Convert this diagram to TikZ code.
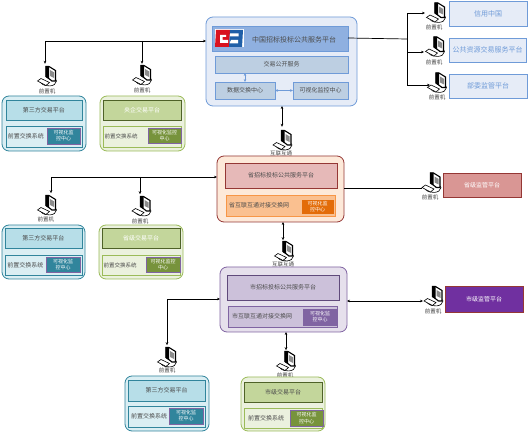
\documentclass[tikz,border=0pt]{standalone}
\usepackage{fontspec}
\setmainfont{Noto Sans CJK SC}
\usetikzlibrary{arrows.meta}
\definecolor{cebA}{HTML}{E6ECF7}
\definecolor{cebB}{HTML}{6F9BD8}
\definecolor{cebC}{HTML}{8FB0E0}
\definecolor{cebD}{HTML}{BDCFE2}
\definecolor{thirdA}{HTML}{DAEEF3}
\definecolor{thirdB}{HTML}{31859C}
\definecolor{thirdC}{HTML}{B7DEE8}
\definecolor{greenA}{HTML}{EBF1DE}
\definecolor{greenB}{HTML}{9BBB59}
\definecolor{greenC}{HTML}{C3D69B}
\definecolor{greenD}{HTML}{4F6228}
\definecolor{greenE}{HTML}{77933C}
\definecolor{violetA}{HTML}{E6E0EC}
\definecolor{violetB}{HTML}{8064A2}
\definecolor{violetC}{HTML}{CCC1DA}
\definecolor{violetD}{HTML}{604A7B}
\definecolor{orangeA}{HTML}{FDE9D9}
\definecolor{orangeB}{HTML}{F79646}
\definecolor{orangeC}{HTML}{FAC090}
\definecolor{orangeD}{HTML}{E36C09}
\definecolor{redA}{HTML}{E6B9B8}
\definecolor{redB}{HTML}{953735}
\definecolor{redC}{HTML}{D99694}
\definecolor{purpleA}{HTML}{7030A0}
\definecolor{logoR}{HTML}{D9121F}
\definecolor{logoB}{HTML}{1F5FA8}
\tikzset{
 base/.style={draw, rectangle, outer sep=0pt, inner sep=0pt, align=center, line width=0.8pt, text=black!70},
 outerbox/.style={base, rounded corners=7pt},
 txta/.style={font=\fontsize{7}{8.5}\selectfont},
 txtb/.style={font=\fontsize{6}{7.5}\selectfont},
 txtd/.style={font=\fontsize{5.5}{6.5}\selectfont},
 txtc/.style={font=\fontsize{5}{6.2}\selectfont},
 plain/.style={inner sep=0pt, text=black!70},
 pclabel/.style={txtd, inner sep=0pt, text=black!75},
 pcspot/.style={inner sep=0pt, minimum width=0pt, minimum height=20pt},
 line/.style={line width=0.7pt},
 link/.style={line, -{Stealth[length=3pt,width=2.6pt]}},
 dlink/.style={line, {Stealth[length=3pt,width=2.6pt]}-{Stealth[length=3pt,width=2.6pt]}},
 frontpc/.pic={
  \draw[line width=0.6pt] (-6,7) .. controls (-2,11.5) and (9,11) .. (9.5,5) .. controls (9.5,3) and (6,3) .. (4,5);
  \draw[fill=white, line width=1.1pt] (-1,-9.5) -- (2,-9.5) -- (8.5,-5.5) -- (8.5,5) -- (5,5) -- (-1,0.5) -- cycle;
  \fill[black] (-1.4,-9.8) -- (2,-9.8) -- (2,3) -- (-1.4,1) -- cycle;
  \fill[black!45] (3,-6) -- (7,-3.6) -- (7,2) -- (3,0) -- cycle;
  \draw[fill=white, line width=0.6pt] (-9.5,5) -- (-6,2.5) -- (2.5,6.5) -- (-1,9.5) -- cycle;
 },
 third/.style={outerbox, fill=thirdA, draw=thirdB},
 thirdt/.style={base, fill=thirdC, draw=thirdB, txtb},
 thirds/.style={base, fill=thirdA, draw=thirdB},
 thirdk/.style={base, fill=thirdB, draw=violetB, text=white, txtc},
 greenbox/.style={outerbox, fill=greenA, draw=greenB},
 greent/.style={base, fill=greenC, draw=greenD, txtb},
 greens/.style={base, fill=greenA, draw=greenB},
 greenk/.style={base, fill=greenE, draw=violetB, text=white, txtc},
 cebbar/.style={base, fill=cebD, draw=cebB, txtb},
 supbox/.style={base, fill=cebA, draw=cebB, text=cebB, txta},
}
\begin{document}
\begin{tikzpicture}[x=1pt, y=-1pt]
 \useasboundingbox[fill=white] (0,0) rectangle (531,435);
 % national platform
 \node[outerbox, fill=cebA, draw=cebB, minimum width=151pt, minimum height=89pt] (cebo) at (281.5,61.5) {};
 \node[base, fill=cebC, draw=cebB, minimum width=136pt, minimum height=25pt] (cebt) at (280,38.5) {};
 \node[txta, plain] (cebn) at (294,39.5) {中国招标投标公共服务平台};
 \node[base, fill=white, draw=none, minimum width=29pt, minimum height=18pt] (logo) at (229,38) {};
 \fill[logoR] (216,30) -- (230,30) -- (229,47) -- (215,47) -- cycle;
 \fill[white] (220,35) -- (226,35) -- (226,37) -- (222.5,37) -- (222.5,40) -- (228,40) -- (228,43) -- (220,43) -- cycle;
 \fill[logoB] (230,30) -- (243,30) -- (242,47) -- (229,47) -- cycle;
 \fill[white] (230,33.5) -- (238.5,33.5) -- (238.5,36.5) -- (230,36.5) -- cycle (231,40) -- (238,40) -- (238,43.5) -- (229.5,43.5) -- cycle;
 \node[cebbar, minimum width=133pt, minimum height=17pt] (cebp) at (281.5,64.5) {交易公开服务};
 \node[cebbar, minimum width=60pt, minimum height=17pt] (cebx) at (245,90.5) {数据交换中心};
 \node[cebbar, minimum width=55pt, minimum height=17pt] (cebv) at (320.5,90.5) {可视化监控中心};
 \draw[dlink, draw=cebB] (cebx.north) -- (cebx.north |- cebp.south);
 \draw[dlink, draw=cebB] (cebx.east) -- (cebv.west);

 % national side links
 \coordinate (ja) at (206,41);
 \coordinate (jb) at (348,38);
 \coordinate (jc) at (407,39);
 \node[pcspot] (pca) at (45,74) {};
 \node[pcspot] (pcb) at (142,74) {};
 \node[pcspot] (pcc) at (282,137) {};
 \node[pcspot] (pcd) at (425,13) {};
 \node[pcspot] (pce) at (424,52) {};
 \node[pcspot] (pcf) at (430,85) {};
 \draw[dlink] (ja) -| (pca.north);
 \draw[link] (pcb.north |- ja) -- (pcb.north);
 \draw[dlink] (cebo.south -| pcc.north) -- (pcc.north);
 \draw[line] (jb) -- (jc);
 \draw[link] (jc) |- (pcd.center);
 \draw[link] (jc) |- (pcf.center);
 \draw[link] (jc |- pce.center) -- (pce.center);
 \pic at (47,76) {frontpc};
 \pic at (142,75) {frontpc};
 \pic at (282.5,140) {frontpc};
 \pic at (436,12.5) {frontpc};
 \pic at (435,46.5) {frontpc};
 \pic at (437,82.5) {frontpc};
 \node[pclabel] (la) at (47,91) {前置机};
 \node[pclabel] (lb) at (142,90) {前置机};
 \node[pclabel] (lc) at (281,153) {互联互通};
 \node[pclabel] (ld) at (434,27) {前置机};
 \node[pclabel] (le) at (434,62) {前置机};
 \node[pclabel] (lf) at (437,97) {前置机};
 \node[supbox, minimum width=78pt, minimum height=25pt] (xyzg) at (488,13.5) {信用中国};
 \node[supbox, minimum width=77pt, minimum height=24pt] (ggzy) at (487.5,50) {公共资源交易服务平台};
 \node[supbox, minimum width=78pt, minimum height=24pt] (bwjg) at (488,86) {部委监管平台};

 % first row of trading platforms
 \node[third, minimum width=84pt, minimum height=55pt] (tpa) at (44,123.5) {};
 \node[thirdt, minimum width=76pt, minimum height=20pt] (tpat) at (44,110) {第三方交易平台};
 \node[thirds, minimum width=76pt, minimum height=21pt] (tpas) at (44,136.5) {};
 \node[txtb, plain] (tpan) at (26,136.5) {前置交换系统};
 \node[thirdk, minimum width=33pt, minimum height=16pt] (tpak) at (63.5,136) {可视化监\\控中心};
 \node[greenbox, minimum width=85pt, minimum height=55pt] (yqa) at (142.5,123.5) {};
 \node[greent, text=white, minimum width=78pt, minimum height=20pt] (yqat) at (142,110) {央企交易平台};
 \node[greens, minimum width=78pt, minimum height=21pt] (yqas) at (142,136.5) {};
 \node[txtd, plain] (yqan) at (121,136.5) {前置交换系统};
 \node[greenk, minimum width=33pt, minimum height=15pt] (yqak) at (164.5,135.5) {可视化监控\\中心};

 % province platform
 \node[outerbox, fill=orangeA, draw=redB, minimum width=127pt, minimum height=66pt] (prov) at (280.5,189) {};
 \node[base, fill=redA, draw=redB, txtb, minimum width=112pt, minimum height=25pt] (provt) at (281,175.5) {省招标投标公共服务平台};
 \node[base, fill=orangeC, draw=orangeB, minimum width=109pt, minimum height=21pt] (provs) at (280.5,205.5) {};
 \node[txtb, plain] (provn) at (259,205.5) {省互联互通对接交换网};
 \node[base, fill=orangeD, draw=orangeC, text=white, txtc, minimum width=33pt, minimum height=15pt] (provk) at (317.5,206.5) {可视化监\\控中心};
 \coordinate (jd) at (217,177);
 \coordinate (je) at (344,188);
 \node[pcspot] (pcg) at (51,183) {};
 \node[pcspot] (pch) at (140,184) {};
 \node[pcspot] (pci) at (283,230) {};
 \node[pcspot] (pcj) at (422,188) {};
 \draw[dlink] (jd) -| (pcg.south);
 \draw[link] (pch.south |- jd) -- (pch.south);
 \draw[dlink] (prov.south -| pci.south) -- (pci.south);
 \draw[line] (je) -- (pcj.center);
 \pic at (47,205) {frontpc};
 \pic at (141.5,206) {frontpc};
 \pic at (284,251) {frontpc};
 \pic at (431.5,182.5) {frontpc};
 \node[pclabel] (lg) at (46,219) {前置机};
 \node[pclabel] (lh) at (140,221) {前置机};
 \node[pclabel] (li) at (283,264) {互联互通};
 \node[pclabel] (lj) at (430,197) {前置机};
 \node[base, fill=redC, draw=redB, text=white, txtb, minimum width=78pt, minimum height=24pt] (sjjg) at (482,185) {省级监管平台};

 % second row of trading platforms
 \node[third, minimum width=83pt, minimum height=54pt] (tpb) at (43.5,252) {};
 \node[thirdt, minimum width=77pt, minimum height=20pt] (tpbt) at (43.5,238) {第三方交易平台};
 \node[thirds, minimum width=77pt, minimum height=20pt] (tpbs) at (43.5,265) {};
 \node[txtb, plain] (tpbn) at (25.5,265) {前置交换系统};
 \node[thirdk, minimum width=34pt, minimum height=15pt] (tpbk) at (63,264.5) {可视化监\\控中心};
 \node[greenbox, minimum width=84pt, minimum height=54pt] (sja) at (141,252) {};
 \node[greent, text=white, minimum width=78pt, minimum height=20pt] (sjat) at (141,238) {省级交易平台};
 \node[greens, minimum width=78pt, minimum height=20pt] (sjas) at (141,265) {};
 \node[txtd, plain] (sjan) at (120,265) {前置交换系统};
 \node[greenk, minimum width=34pt, minimum height=15pt] (sjak) at (163,264.5) {可视化监控\\中心};

 % city platform
 \node[outerbox, fill=violetA, draw=violetB, minimum width=127pt, minimum height=65pt] (city) at (283.5,299.5) {};
 \node[base, fill=violetC, draw=violetD, txtb, minimum width=112pt, minimum height=25pt] (cityt) at (283,287.5) {市招标投标公共服务平台};
 \node[base, fill=violetC, draw=violetB, minimum width=109pt, minimum height=21pt] (citys) at (282.5,316.5) {};
 \node[txtb, plain] (cityn) at (262,316) {市互联互通对接交换网};
 \node[base, fill=violetB, draw=violetB, text=white, txtc, minimum width=34pt, minimum height=16pt] (cityk) at (320,317) {可视化监\\控中心};
 \coordinate (jf) at (220,299);
 \coordinate (jg) at (347,301);
 \node[pcspot] (pck) at (167,335) {};
 \node[pcspot] (pcl) at (286,340) {};
 \node[pcspot] (pcm) at (423,301) {};
 \draw[dlink] (jf) -| (pck.south);
 \draw[dlink] (city.south -| pcl.south) -- (pcl.south);
 \draw[dlink] (jg) -- (pcm.center);
 \pic at (167,357) {frontpc};
 \pic at (286,361) {frontpc};
 \pic at (433.5,296) {frontpc};
 \node[pclabel] (lk) at (167,370) {前置机};
 \node[pclabel] (ll) at (285,375) {前置机};
 \node[pclabel] (lm) at (433,311) {前置机};
 \node[base, fill=purpleA, draw=redB, text=white, txtb, minimum width=78pt, minimum height=26pt] (shjg) at (484,299) {市级监管平台};

 % third row of trading platforms
 \node[third, minimum width=84pt, minimum height=55pt] (tpc) at (167,403.5) {};
 \node[thirdt, minimum width=77pt, minimum height=21pt] (tpct) at (166.5,390.5) {第三方交易平台};
 \node[thirds, minimum width=77pt, minimum height=21pt] (tpcs) at (166.5,416.5) {};
 \node[txtb, plain] (tpcn) at (149,416.5) {前置交换系统};
 \node[thirdk, minimum width=34pt, minimum height=16pt] (tpck) at (186,416) {可视化监\\控中心};
 \node[greenbox, minimum width=84pt, minimum height=54pt] (shja) at (283,404) {};
 \node[greent, minimum width=78pt, minimum height=20pt] (shjat) at (283,392) {市级交易平台};
 \node[greens, minimum width=78pt, minimum height=20pt] (shjas) at (283,418) {};
 \node[txtb, plain] (shjan) at (266,418) {前置交换系统};
 \node[greenk, minimum width=33pt, minimum height=16pt] (shjak) at (306.5,418) {可视化监\\控中心};
\end{tikzpicture}
\end{document}
